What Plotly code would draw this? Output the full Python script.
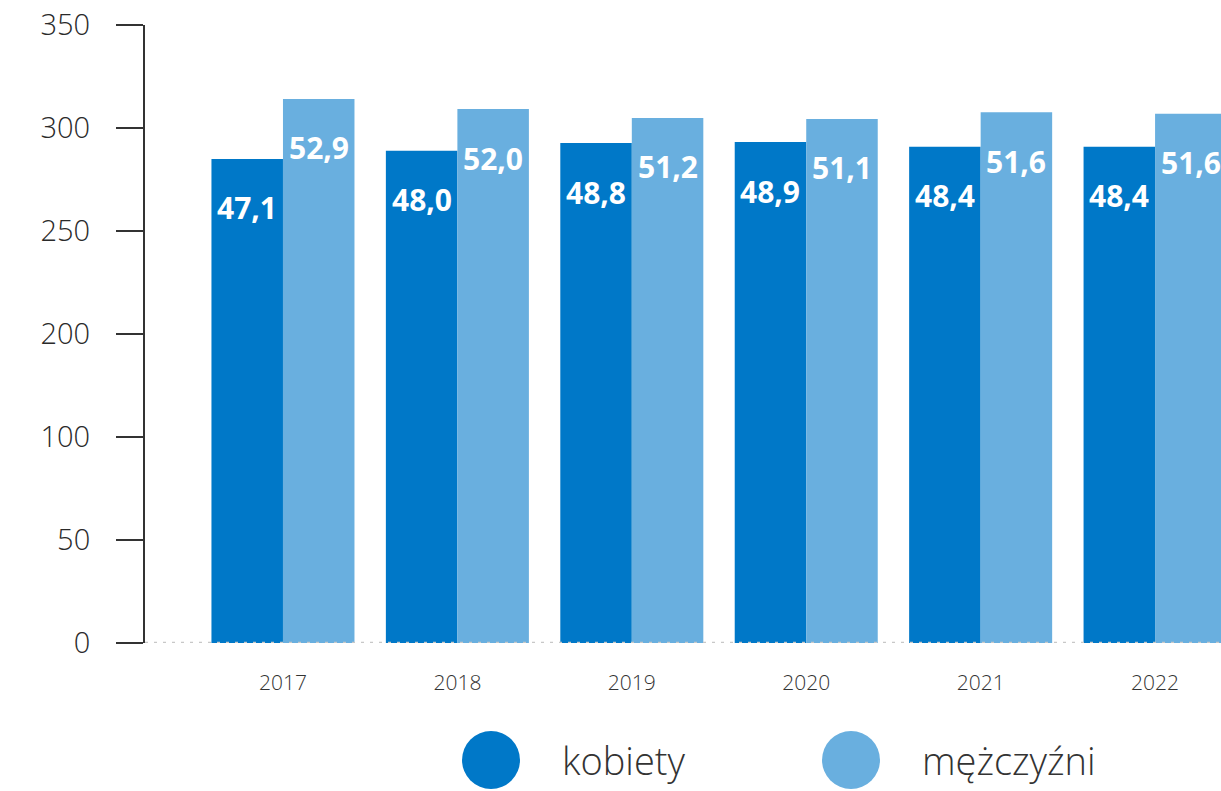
import plotly.graph_objects as go

years = ["2017", "2018", "2019", "2020", "2021", "2022"]
kobiety = [235.0, 239.0, 242.7, 243.2, 240.9, 240.9]
mezczyzni = [264.1, 259.2, 254.9, 254.4, 257.6, 256.9]
kobiety_pct = ["47,1", "48,0", "48,8", "48,9", "48,4", "48,4"]
mezczyzni_pct = ["52,9", "52,0", "51,2", "51,1", "51,6", "51,6"]
ytick_vals = [0, 50, 100, 150, 200, 250, 300]
ytick_text = ["0", "50", "100", "200", "250", "300", "350"]
series_names = ["kobiety", "mężczyźni"]
colors = ["#0078C8", "#69AFDF"]

W, H = 1221, 791
L, T = 145, 25
PH = 618
B = H - T - PH
R = 0
pw = W - L - R

fig = go.Figure()
fig.add_trace(go.Bar(x=years, y=kobiety, name=series_names[0], marker_color=colors[0],
                     marker_line_width=0, hoverinfo="skip"))
fig.add_trace(go.Bar(x=years, y=mezczyzni, name=series_names[1], marker_color=colors[1],
                     marker_line_width=0, hoverinfo="skip"))

xr = [-0.791, 5.378]
unit_px = pw / (xr[1] - xr[0])
half = 0.82 * unit_px / 4

lab_font = dict(family="Open Sans", size=30, color="#ffffff", weight=700)
ann = []
for i, (v, t) in enumerate(zip(kobiety, kobiety_pct)):
    ann.append(dict(x=i, y=v, xref="x", yref="y", text=t, showarrow=False,
                    xshift=-half, yshift=-49, yanchor="middle", font=lab_font))
for i, (v, t) in enumerate(zip(mezczyzni, mezczyzni_pct)):
    ann.append(dict(x=i, y=v, xref="x", yref="y", text=t, showarrow=False,
                    xshift=half, yshift=-49, yanchor="middle", font=lab_font))

shapes = [dict(type="line", xref="paper", yref="y", x0=0, x1=1, y0=0, y1=0,
               line=dict(color="#c8c8c8", width=2.5, dash="3px,6px"), layer="above")]

leg_cx = [491, 851]
leg_tx = [560, 920]
leg_cy = 760
for cx, tx, name, col in zip(leg_cx, leg_tx, series_names, colors):
    px = (cx - L) / pw
    py = (T + PH - leg_cy) / PH
    shapes.append(dict(type="circle", xref="paper", yref="paper", xsizemode="pixel",
                       ysizemode="pixel", xanchor=px, yanchor=py, x0=-29, x1=29,
                       y0=-29, y1=29, fillcolor=col, line_width=0))
    ann.append(dict(x=(tx - L) / pw, y=py, xref="paper", yref="paper", text=name,
                    showarrow=False, xanchor="left", yanchor="middle",
                    font=dict(family="Open Sans", size=38, color="#333333", weight=300)))

fig.update_layout(
    width=W, height=H,
    margin=dict(l=L, r=R, t=T, b=B, pad=0, autoexpand=False),
    plot_bgcolor="white", paper_bgcolor="white",
    barmode="group", bargap=0.18, bargroupgap=0,
    showlegend=False,
    annotations=ann, shapes=shapes,
    xaxis=dict(type="category", range=xr, showline=False, showgrid=False,
               zeroline=False, ticks="", ticklabelstandoff=25, automargin=False,
               tickfont=dict(family="Open Sans", size=21, color="#333333", weight=300)),
    yaxis=dict(range=[0, 300], tickvals=ytick_vals, ticktext=ytick_text,
               showgrid=False, zeroline=False, showline=True, linecolor="#333333",
               linewidth=2, ticks="outside", ticklen=27, tickwidth=2, tickcolor="#333333",
               ticklabelstandoff=20, ticklabeloverflow="allow", automargin=False,
               tickfont=dict(family="Open Sans", size=29, color="#2a2a2a", weight=300)),
)

fig.write_html("out.html", config={"displayModeBar": False},
               post_script="document.body.style.margin='0';")
